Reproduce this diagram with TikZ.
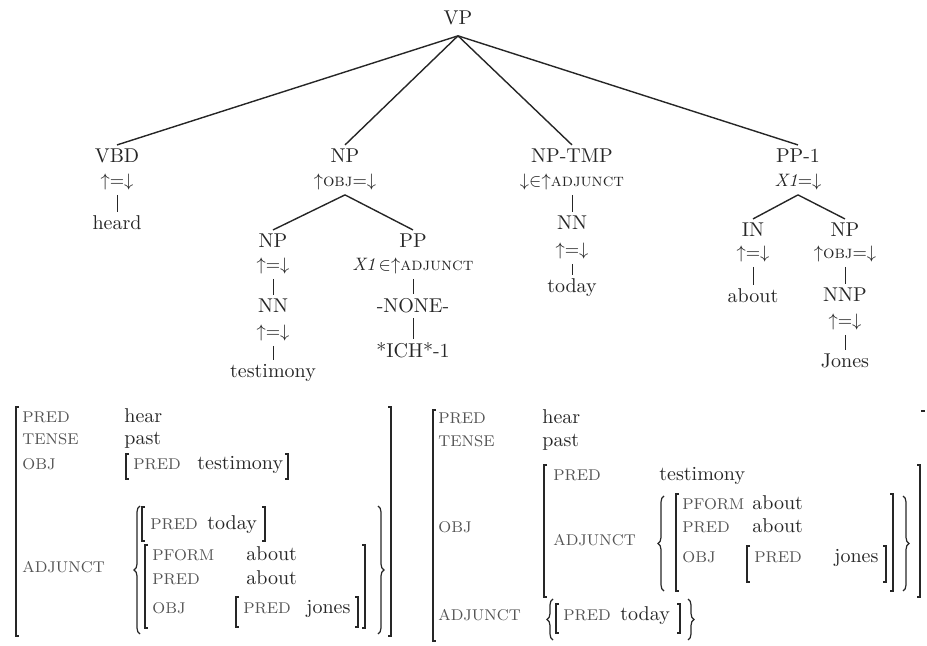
\documentclass[tikz,border=0pt]{standalone}
\usetikzlibrary{decorations.pathreplacing}
\definecolor{ink}{gray}{0.15}
\definecolor{lab}{gray}{0.33}

\tikzset{
  cat/.style={anchor=base, inner sep=2pt, text=ink, font=\fontsize{10}{12}\selectfont},
  anno/.style={anchor=base, inner sep=2pt, text=ink, font=\fontsize{9}{11}\selectfont},
  word/.style={anchor=base, inner sep=2pt, text=ink, font=\fontsize{10}{12}\selectfont},
  branch/.style={draw=ink, line width=0.7pt},
  bar/.style={draw=ink, line width=0.45pt},
  attr/.style={anchor=base west, inner sep=0pt, text=lab, font=\fontsize{7.8}{9}\selectfont},
  val/.style={anchor=base west, inner sep=0pt, text=ink, font=\fontsize{10}{12}\selectfont},
  brk/.style={draw=ink, line width=0.6pt},
  setbrace/.style={draw=ink, line width=0.6pt, decorate, decoration={brace, amplitude=3pt}},
}

% square brackets of an attribute-value matrix: x, top y, bottom y
\newcommand\avmopen[3]{\draw[brk] (#1+3,#2) -- (#1,#2) -- (#1,#3) -- (#1+3,#3);}
\newcommand\avmclose[3]{\draw[brk] (#1-3,#2) -- (#1,#2) -- (#1,#3) -- (#1-3,#3);}
% curly braces of a set: x, top y, bottom y
\newcommand\setopen[3]{\draw[setbrace] (#1,#3) -- (#1,#2);}
\newcommand\setclose[3]{\draw[setbrace] (#1,#2) -- (#1,#3);}

\newcommand\ua{$\uparrow$}
\newcommand\da{$\downarrow$}
\newcommand\eqann{${\uparrow}{=}{\downarrow}$}

\begin{document}
\begin{tikzpicture}[x=0.5pt,y=-0.5pt]
\useasboundingbox (0,0) rectangle (927,646);

% ---------------- c-structure tree ----------------
\node[cat, inner sep=5pt] (vp) at (458,25) {VP};

\node[cat]  (vbd)    at (117,163) {VBD};
\node[anno] (vbdf)   at (117,187) {\eqann};
\node[word] (heard)  at (117,230) {heard};

\node[cat]  (np)     at (345,163) {NP};
\node[anno] (npf)    at (345,187) {\ua\textsc{obj}$=$\da};

\node[cat]  (npa)    at (273,248) {NP};
\node[anno] (npaf)   at (273,271) {\eqann};
\node[cat]  (nn)     at (273,313) {NN};
\node[anno] (nnf)    at (273,338) {\eqann};
\node[word] (testim) at (273,378) {testimony};

\node[cat]  (pp)     at (413,248) {PP};
\node[anno] (ppf)    at (413,271) {\textit{X1}\,$\in$\ua\textsc{adjunct}};
\node[cat]  (none)   at (413,313) {-NONE-};
\node[word] (ich)    at (413,358) {*ICH*-1};

\node[cat]  (nptmp)  at (572,163) {NP-TMP};
\node[anno] (nptmpf) at (572,187) {\da$\in$\ua\textsc{adjunct}};
\node[cat]  (nnb)    at (572,230) {NN};
\node[anno] (nnbf)   at (572,256) {\eqann};
\node[word] (today)  at (572,293) {today};

\node[cat]  (ppone)  at (798,163) {PP-1};
\node[anno] (pponef) at (798,187) {\textit{X1}$=$\da};

\node[cat]  (in)     at (753,237) {IN};
\node[anno] (inf)    at (753,259) {\eqann};
\node[word] (about)  at (753,303) {about};

\node[cat]  (npb)    at (845,237) {NP};
\node[anno] (npbf)   at (845,259) {\ua\textsc{obj}$=$\da};
\node[cat]  (nnp)    at (845,302) {NNP};
\node[anno] (nnpf)   at (845,327) {\eqann};
\node[word] (jones)  at (845,368) {Jones};

% branches
\foreach \c in {vbd,np,nptmp,ppone} \draw[branch] (vp.south) -- (\c.north);
\draw[branch] (npf.south) -- (npa.north);
\draw[branch] (npf.south) -- (pp.north);
\draw[branch] (pponef.south) -- (in.north);
\draw[branch] (pponef.south) -- (npb.north);

% unary links
\draw[bar] (vbdf.south) -- (heard.north);
\draw[bar] (npaf.south) -- (nn.north);
\draw[bar] (nnf.south) -- (testim.north);
\draw[bar] (ppf.south) -- (none.north);
\draw[bar] (none.south) -- (ich.north);
\draw[bar] (nptmpf.south) -- (nnb.north);
\draw[bar] (nnbf.south) -- (today.north);
\draw[bar] (inf.south) -- (about.north);
\draw[bar] (npbf.south) -- (nnp.north);
\draw[bar] (nnpf.south) -- (jones.north);

% ---------------- f-structure, left ----------------
\avmopen{16}{407}{636}
\avmclose{391}{407}{636}
\node[attr] (l-pred)  at (22,423) {PRED};
\node[val]  (l-hear)  at (124,423) {hear};
\node[attr] (l-tense) at (22,445) {TENSE};
\node[val]  (l-past)  at (124,445) {past};
\node[attr] (l-obj)   at (22,470) {OBJ};
\avmopen{126}{454}{479}
\node[attr] (l-objpred) at (133,470) {PRED};
\node[val]  (l-testim)  at (197,470) {testimony};
\avmclose{288}{454}{479}
\node[attr] (l-adj)   at (22,573) {ADJUNCT};
\setopen{140}{506}{634}
\setclose{378}{506}{634}
\avmopen{142}{507}{541}
\node[attr] (l-tpred) at (150,530) {PRED};
\node[val]  (l-today) at (207,530) {today};
\avmclose{265}{507}{541}
\avmopen{145}{545}{628}
\node[attr] (l-pform) at (152,561) {PFORM};
\node[val]  (l-pfv)   at (246,561) {about};
\node[attr] (l-ppred) at (152,585) {PRED};
\node[val]  (l-ppv)   at (246,585) {about};
\node[attr] (l-pobj)  at (152,613) {OBJ};
\avmopen{236}{597}{627}
\node[attr] (l-jpred) at (243,613) {PRED};
\node[val]  (l-jones) at (306,613) {jones};
\avmclose{358}{597}{627}
\avmclose{365}{545}{628}

% ---------------- f-structure, right ----------------
\avmopen{433}{410}{641}
\draw[brk] (921,411) -- (925,411);
\node[attr] (r-pred)  at (438,424) {PRED};
\node[val]  (r-hear)  at (542,424) {hear};
\node[attr] (r-tense) at (438,447) {TENSE};
\node[val]  (r-past)  at (542,447) {past};
\node[attr] (r-obj)   at (438,533) {OBJ};
\avmopen{544}{465}{597}
\avmclose{920}{465}{597}
\node[attr] (r-opred) at (553,481) {PRED};
\node[val]  (r-testim) at (659,481) {testimony};
\node[attr] (r-oadj)  at (553,546) {ADJUNCT};
\setopen{664}{496}{591}
\setclose{903}{496}{591}
\avmopen{676}{494}{591}
\node[attr] (r-pform) at (682,510) {PFORM};
\node[val]  (r-pfv)   at (752,510) {about};
\node[attr] (r-ppred) at (682,533) {PRED};
\node[val]  (r-ppv)   at (752,533) {about};
\node[attr] (r-pobj)  at (682,563) {OBJ};
\avmopen{747}{546}{582}
\node[attr] (r-jpred) at (754,563) {PRED};
\node[val]  (r-jones) at (834,563) {jones};
\avmclose{886}{546}{582}
\avmclose{893}{494}{591}
\node[attr] (r-adj)   at (438,620) {ADJUNCT};
\setopen{553}{599}{640}
\avmopen{556}{604}{633}
\node[attr] (r-tpred) at (563,620) {PRED};
\node[val]  (r-today) at (620,620) {today};
\avmclose{680}{604}{633}
\setclose{688}{599}{640}
\end{tikzpicture}
\end{document}
